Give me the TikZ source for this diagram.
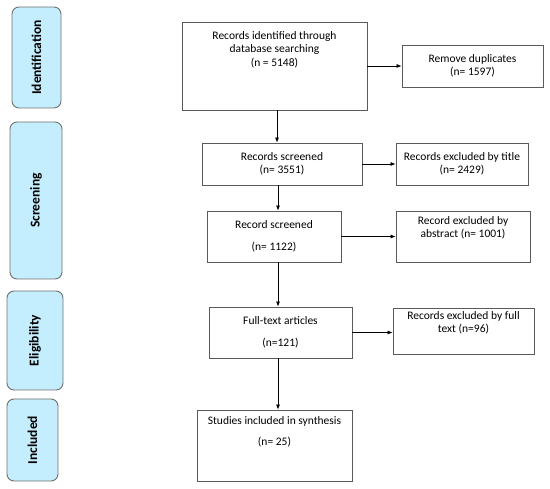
\documentclass[tikz,border=0pt]{standalone}
\usepackage{fontspec}
\setmainfont{Carlito}
\usetikzlibrary{arrows.meta}

\definecolor{phasefill}{HTML}{C4EEFD}
\definecolor{phaseline}{HTML}{707070}
\definecolor{boxline}{HTML}{5A5A5A}

\tikzset{
  phase/.style={draw=phaseline, line width=0.9pt, fill=phasefill, rounded corners=7pt, rotate=90, font=\bfseries\fontsize{13.5}{15}\selectfont},
  box/.style={draw=boxline, line width=0.8pt, align=center, font=\fontsize{11.5}{13.5}\selectfont, inner sep=2pt},
  flow/.style={-{Latex[length=5pt,width=4pt]}, line width=0.7pt}
}

\begin{document}
\begin{tikzpicture}[x=1pt,y=1pt]
  \useasboundingbox (0,0) rectangle (550,-489);

  % phases
  \node (ident) [phase, minimum width=101, minimum height=49] at (36.5,-57.5) {Identification};
  \node (screen) [phase, minimum width=157, minimum height=52] at (36,-200.5) {Screening};
  \node (elig) [phase, minimum width=99, minimum height=56] at (35,-340.5) {Eligibility};
  \node (incl) [phase, minimum width=82, minimum height=51] at (32.5,-440) {Included};

  % main column
  \node (found) [box, minimum width=185, minimum height=88] at (274.5,-66) {};
  \node (foundtxt) [align=center, font=\fontsize{11.5}{13.5}\selectfont, anchor=north] at ([yshift=-6]found.north) {Records identified through\\database searching\\(n = 5148)};
  \node (dupl) [box, minimum width=141, minimum height=42] at (472.5,-66) {Remove duplicates\\(n= 1597)};

  \node (scr) [box, minimum width=160, minimum height=42] at (282,-164) {Records screened\\(n= 3551)};
  \node (extitle) [box, minimum width=132, minimum height=42] at (462,-164) {Records excluded by title\\(n= 2429)};

  \node (scr2) [box, minimum width=134, minimum height=51] at (274,-236.5) {Record screened\\[8pt](n= 1122)};
  \node (exabs) [box, minimum width=134, minimum height=51] at (463,-236.5) {Record excluded by\\abstract (n= 1001)\\[5pt]};

  \node (full) [box, minimum width=143, minimum height=51] at (280.5,-332.5) {Full-text articles\\[8pt](n=121)};
  \node (exfull) [box, minimum width=141, minimum height=46] at (463.5,-331) {Records excluded by full\\text (n=96)\\[4pt]};

  \node (incl2) [box, minimum width=155, minimum height=71] at (274.5,-445.5) {};
  \node (incltxt) [align=center, font=\fontsize{11.5}{13.5}\selectfont, anchor=north] at ([yshift=-3]incl2.north) {Studies included in synthesis\\[8pt](n= 25)};

  % arrows
  \draw[flow] (found.east |- dupl.west) -- (dupl.west);
  \draw[flow] (found.south -| 277,0) -- (scr.north -| 277,0);
  \draw[flow] (scr.east) -- (scr.east -| extitle.west);
  \draw[flow] (scr.south -| 278,0) -- (scr2.north -| 278,0);
  \draw[flow] (scr2.east) -- (scr2.east -| exabs.west);
  \draw[flow] (scr2.south -| 278,0) -- (full.north -| 278,0);
  \draw[flow] (full.east) -- (full.east -| exfull.west);
  \draw[flow] (full.south -| 278,0) -- (incl2.north -| 278,0);
\end{tikzpicture}
\end{document}
